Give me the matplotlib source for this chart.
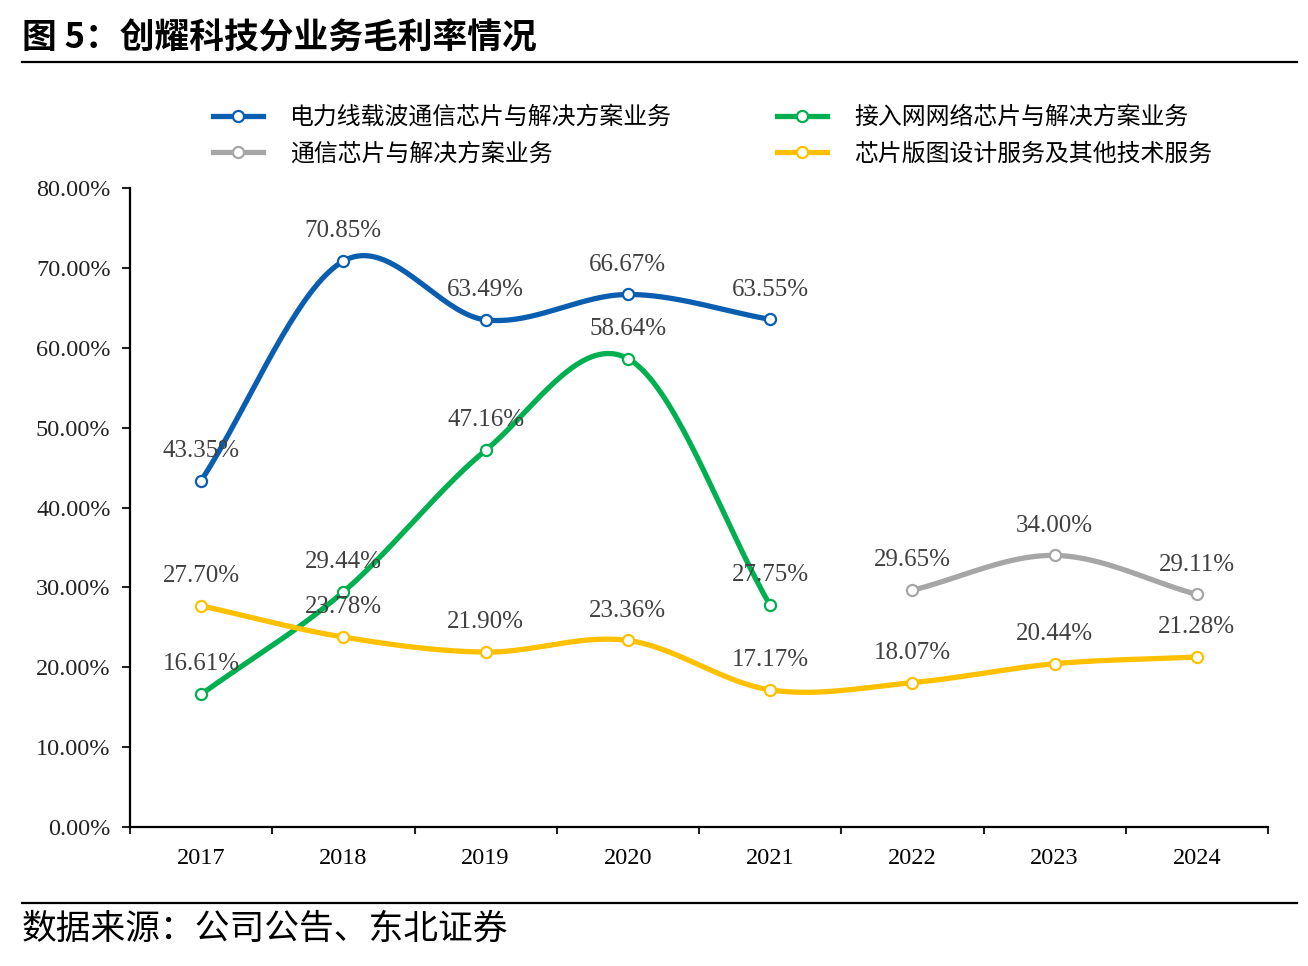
import numpy as np
import matplotlib
matplotlib.use("Agg")
import matplotlib.pyplot as plt
from matplotlib.lines import Line2D

# Data (gross margin, %)
years = ["2017", "2018", "2019", "2020", "2021", "2022", "2023", "2024"]
plc_margin = [43.35, 70.85, 63.49, 66.67, 63.55]          # 2017-2021
access_margin = [16.61, 29.44, 47.16, 58.64, 27.75]       # 2017-2021
comm_margin = [29.65, 34.00, 29.11]                       # 2022-2024
layout_margin = [27.70, 23.78, 21.90, 23.36, 17.17, 18.07, 20.44, 21.28]

series_names = ["电力线载波通信芯片与解决方案业务", "通信芯片与解决方案业务",
                "接入网网络芯片与解决方案业务", "芯片版图设计服务及其他技术服务"]

SERIF = ["Liberation Serif", "DejaVu Serif"]
CJK = ["Noto Sans CJK SC", "DejaVu Sans"]
LABEL_GREY = "#404040"


def smooth(x, y, n=40):
    """ Catmull-Rom style smoothing (like Excel's smoothed line), drawing only."""
    x, y = np.asarray(x, float), np.asarray(y, float)
    if len(x) < 3:
        return x, y
    px = np.concatenate([[2 * x[0] - x[1]], x, [2 * x[-1] - x[-2]]])
    py = np.concatenate([[2 * y[0] - y[1]], y, [2 * y[-1] - y[-2]]])
    xs, ys = [], []
    t = np.linspace(0, 1, n)
    for i in range(1, len(px) - 2):
        b0x, b0y = px[i], py[i]
        b3x, b3y = px[i + 1], py[i + 1]
        b1x, b1y = b0x + (px[i + 1] - px[i - 1]) / 6, b0y + (py[i + 1] - py[i - 1]) / 6
        b2x, b2y = b3x - (px[i + 2] - px[i]) / 6, b3y - (py[i + 2] - py[i]) / 6
        bx = (1 - t) ** 3 * b0x + 3 * (1 - t) ** 2 * t * b1x + 3 * (1 - t) * t ** 2 * b2x + t ** 3 * b3x
        by = (1 - t) ** 3 * b0y + 3 * (1 - t) ** 2 * t * b1y + 3 * (1 - t) * t ** 2 * b2y + t ** 3 * b3y
        xs.append(bx)
        ys.append(by)
    return np.concatenate(xs), np.concatenate(ys)


fig = plt.figure(figsize=(13.08, 9.66), dpi=100)
ax = fig.add_axes([130 / 1308, 1 - 827 / 966, 1138 / 1308, 639 / 966])

series = [
    (plc_margin, 0, "#0A5EB0"),
    (comm_margin, 5, "#A6A6A6"),
    (access_margin, 0, "#00B050"),
    (layout_margin, 0, "#FFC000"),
]
handles = []
for vals, start, color in series:
    xs = np.arange(start, start + len(vals))
    sx, sy = smooth(xs, vals)
    ax.plot(sx, sy, color=color, lw=3.8, solid_capstyle="round", zorder=2)
    ax.plot(xs, vals, ls="none", marker="o", ms=8, mfc="white", mec=color, mew=1.6, zorder=3)
    for x, v in zip(xs, vals):
        ax.annotate(f"{v:.2f}%", (x, v), xytext=(0, 21.5), textcoords="offset points",
                    ha="center", va="center", fontsize=18, color=LABEL_GREY,
                    family=SERIF, zorder=4)
    handles.append(Line2D([], [], color=color, lw=3.8, marker="o", ms=8,
                          mfc="white", mec=color, mew=1.6))

ax.set_xlim(-0.5, len(years) - 0.5)
ax.set_ylim(0, 80)
ax.set_yticks(np.arange(0, 81, 10))
ax.set_yticklabels([f"{v:.2f}%" for v in np.arange(0, 81, 10)], family=SERIF, fontsize=17.5)
ax.set_xticks(np.arange(-0.5, len(years), 1))
ax.set_xticklabels([])
ax.set_xticks(np.arange(len(years)), minor=True)
ax.set_xticklabels(years, minor=True, family=SERIF, fontsize=17.5)
ax.tick_params(axis="x", which="major", direction="out", length=5, width=1.5)
ax.tick_params(axis="x", which="minor", length=0, pad=15)
ax.tick_params(axis="y", direction="out", length=6, width=1.5, pad=8)
ax.tick_params(colors="#222222")
for s in ["top", "right"]:
    ax.spines[s].set_visible(False)
for s in ["left", "bottom"]:
    ax.spines[s].set_linewidth(1.6)
    ax.spines[s].set_color("black")

fig.legend(handles, series_names, ncol=2, loc="upper left",
           bbox_to_anchor=(213 / 1308, 1 - 106 / 966), frameon=False,
           prop={"family": CJK, "size": 17.2}, handlelength=2.1, handletextpad=1.12,
           columnspacing=4.4, labelspacing=0.58, borderpad=0, borderaxespad=0)

# Title, footer and rules
fig.text(22 / 1308, 1 - 38 / 966, "图 5：创耀科技分业务毛利率情况", fontsize=25,
         fontweight="bold", family=CJK, va="center", ha="left")
fig.add_artist(Line2D([22 / 1308, 1297 / 1308], [1 - 62 / 966] * 2, color="black", lw=1.6))
fig.add_artist(Line2D([22 / 1308, 1297 / 1308], [1 - 903 / 966] * 2, color="black", lw=1.6))
fig.text(22 / 1308, 1 - 929 / 966, "数据来源：公司公告、东北证券", fontsize=25,
         family=CJK, va="center", ha="left")

fig.savefig("out.png", dpi=100)
